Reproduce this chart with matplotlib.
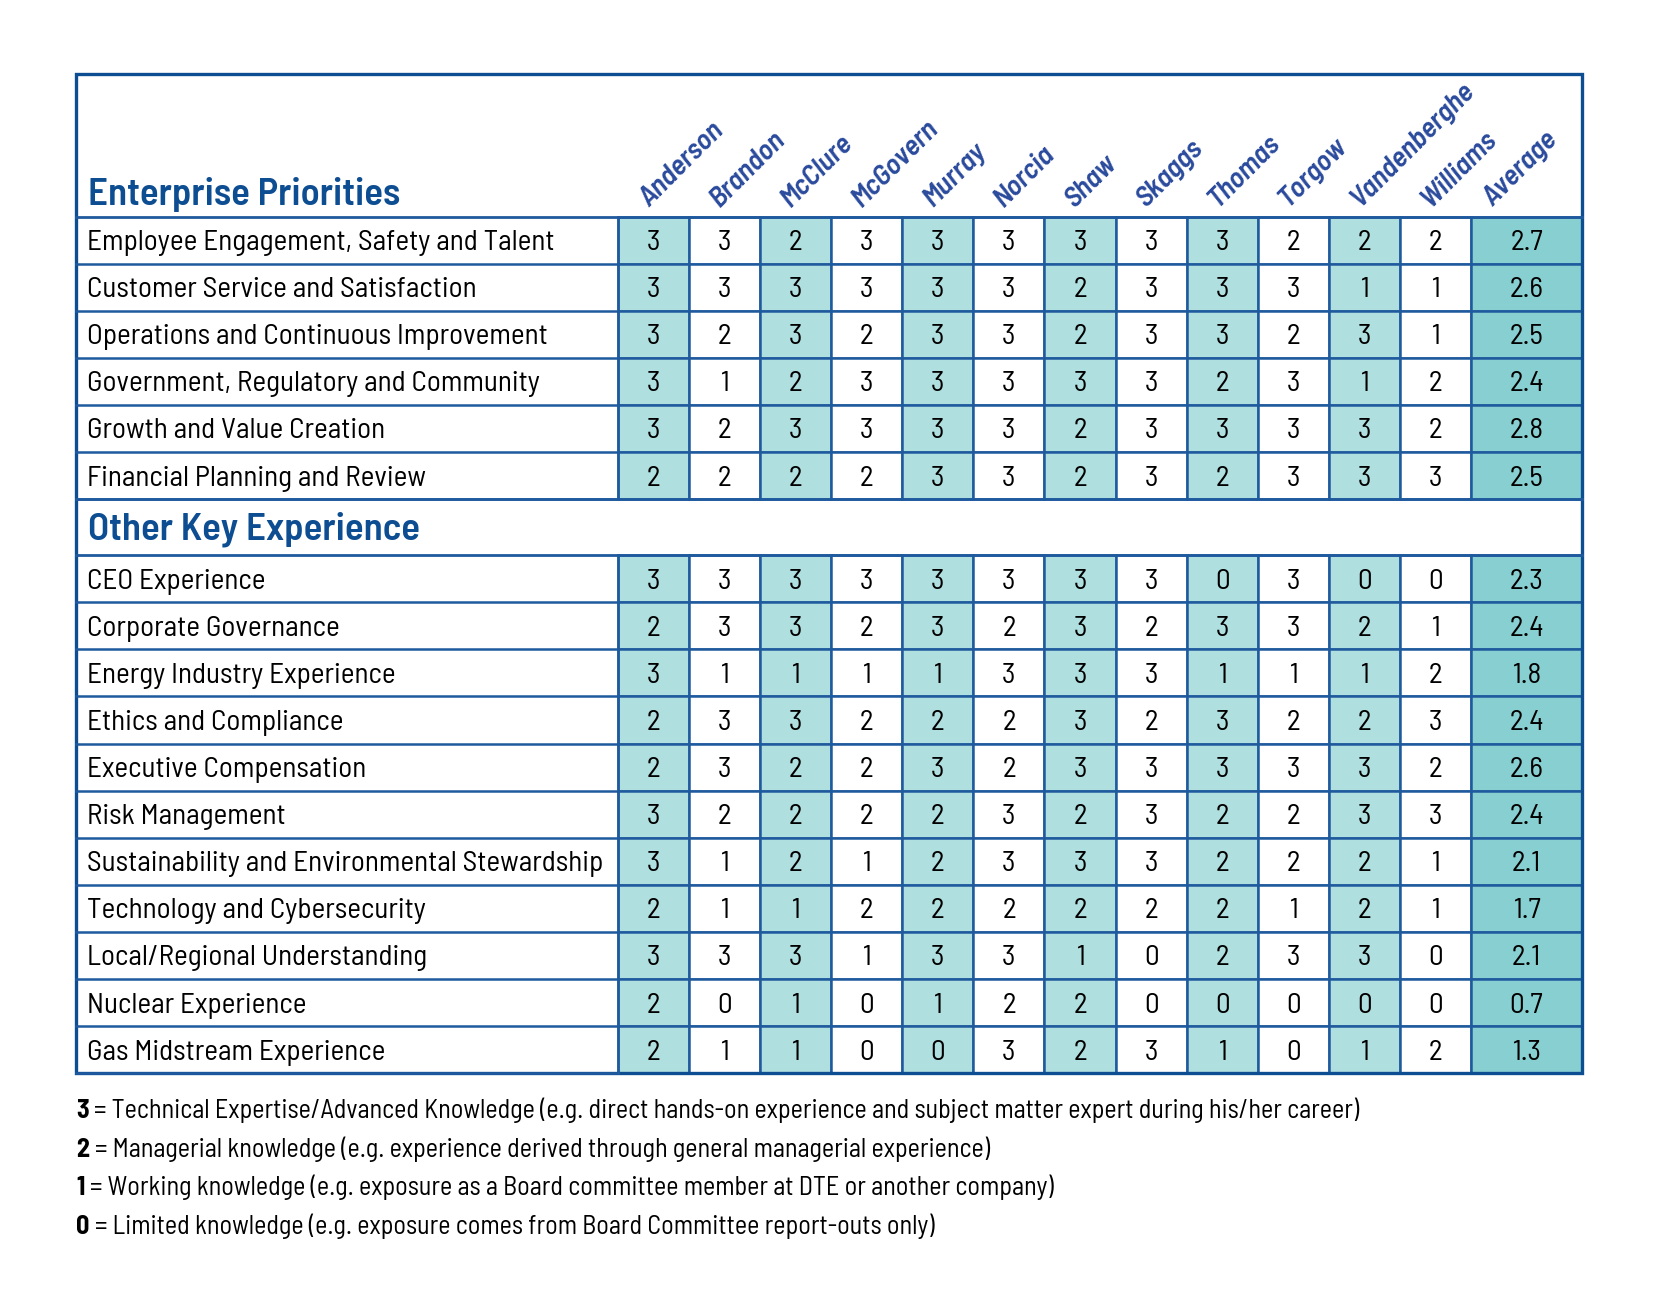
import matplotlib
matplotlib.use("Agg")
import matplotlib.pyplot as plt
from matplotlib.patches import Rectangle

# directors and skill scores
names = ["Anderson", "Brandon", "McClure", "McGovern", "Murray", "Norcia", "Shaw",
         "Skaggs", "Thomas", "Torgow", "Vandenberghe", "Williams"]

enterprise_labels = [
    "Employee Engagement, Safety and Talent",
    "Customer Service and Satisfaction",
    "Operations and Continuous Improvement",
    "Government, Regulatory and Community",
    "Growth and Value Creation",
    "Financial Planning and Review",
]
enterprise_scores = [
    [3, 3, 2, 3, 3, 3, 3, 3, 3, 2, 2, 2],
    [3, 3, 3, 3, 3, 3, 2, 3, 3, 3, 1, 1],
    [3, 2, 3, 2, 3, 3, 2, 3, 3, 2, 3, 1],
    [3, 1, 2, 3, 3, 3, 3, 3, 2, 3, 1, 2],
    [3, 2, 3, 3, 3, 3, 2, 3, 3, 3, 3, 2],
    [2, 2, 2, 2, 3, 3, 2, 3, 2, 3, 3, 3],
]
enterprise_avg = ["2.7", "2.6", "2.5", "2.4", "2.8", "2.5"]

other_labels = [
    "CEO Experience",
    "Corporate Governance",
    "Energy Industry Experience",
    "Ethics and Compliance",
    "Executive Compensation",
    "Risk Management",
    "Sustainability and Environmental Stewardship",
    "Technology and Cybersecurity",
    "Local/Regional Understanding",
    "Nuclear Experience",
    "Gas Midstream Experience",
]
other_scores = [
    [3, 3, 3, 3, 3, 3, 3, 3, 0, 3, 0, 0],
    [2, 3, 3, 2, 3, 2, 3, 2, 3, 3, 2, 1],
    [3, 1, 1, 1, 1, 3, 3, 3, 1, 1, 1, 2],
    [2, 3, 3, 2, 2, 2, 3, 2, 3, 2, 2, 3],
    [2, 3, 2, 2, 3, 2, 3, 3, 3, 3, 3, 2],
    [3, 2, 2, 2, 2, 3, 2, 3, 2, 2, 3, 3],
    [3, 1, 2, 1, 2, 3, 3, 3, 2, 2, 2, 1],
    [2, 1, 1, 2, 2, 2, 2, 2, 2, 1, 2, 1],
    [3, 3, 3, 1, 3, 3, 1, 0, 2, 3, 3, 0],
    [2, 0, 1, 0, 1, 2, 2, 0, 0, 0, 0, 0],
    [2, 1, 1, 0, 0, 3, 2, 3, 1, 0, 1, 2],
]
other_avg = ["2.3", "2.4", "1.8", "2.4", "2.6", "2.4", "2.1", "1.7", "2.1", "0.7", "1.3"]

legend_keys = ["3", "2", "1", "0"]
legend_texts = [
    "= Technical Expertise/Advanced Knowledge (e.g. direct hands-on experience and subject matter expert during his/her career)",
    "= Managerial knowledge (e.g. experience derived through general managerial experience)",
    "= Working knowledge (e.g. exposure as a Board committee member at DTE or another company)",
    "= Limited knowledge (e.g. exposure comes from Board Committee report-outs only)",
]

# colours
BLUE = "#0d4d92"
LINE = "#1f5a9e"
TEAL = "#b0dfe0"
TEAL_AVG = "#88cfd1"
NAME_BLUE = "#2a4a9c"

plt.rcParams['font.family'] = ['Barlow Semi Condensed', 'Liberation Sans', 'DejaVu Sans']

W, H = 1665, 1303
fig = plt.figure(figsize=(W / 100, H / 100), dpi=100)
ax = fig.add_axes([0, 0, 1, 1])
ax.set_xlim(0, W)
ax.set_ylim(H, 0)
ax.axis('off')

# layout in pixels
x0, xl, xr = 76, 618, 1582
y0, yh = 74, 216.5
rh = 47.1
sec_h = 56
ncol = len(names)
cw = (1471 - xl) / ncol
avg_w = xr - (xl + ncol * cw)
fs = 21


def draw_rows(labels, scores, avgs, ytop):
    y = ytop
    for lab, row, av in zip(labels, scores, avgs):
        ty = y + rh / 2 + 3
        ax.text(x0 + 11, ty, lab, fontsize=fs, va='center', ha='left')
        for j, v in enumerate(row):
            cx = xl + j * cw
            fc = TEAL if j % 2 == 0 else 'white'
            ax.add_patch(Rectangle((cx, y), cw, rh, facecolor=fc, edgecolor=LINE, lw=1.8))
            ax.text(cx + cw / 2, ty, str(v), fontsize=fs, ha='center', va='center')
        ax_x = xl + ncol * cw
        ax.add_patch(Rectangle((ax_x, y), avg_w, rh, facecolor=TEAL_AVG, edgecolor=LINE, lw=1.8))
        ax.text(ax_x + avg_w / 2, ty, av, fontsize=fs, ha='center', va='center')
        ax.plot([x0, xl], [y + rh, y + rh], color=LINE, lw=1.8)
        y += rh
    ax.plot([xl, xl], [ytop, y], color=LINE, lw=1.8)
    return y


# header
ax.text(x0 + 12, yh - 12, "Enterprise Priorities", fontsize=28, fontweight='semibold',
        color=BLUE, ha='left', va='baseline')
for j, nm in enumerate(names + ["Average"]):
    cx = xl + j * cw + cw / 2 - 5
    if j == ncol:
        cx = xl + ncol * cw + avg_w / 2 - 34
    ax.text(cx, yh - 9, nm, fontsize=21, fontstyle='italic', fontweight='semibold',
            color=NAME_BLUE, rotation=45, rotation_mode='anchor', ha='left', va='baseline')
ax.plot([x0, xr], [yh, yh], color=LINE, lw=2)

y = draw_rows(enterprise_labels, enterprise_scores, enterprise_avg, yh)

# section heading row
ax.text(x0 + 12, y + sec_h / 2 + 2, "Other Key Experience", fontsize=28, fontweight='semibold',
        color=BLUE, ha='left', va='center')
ax.plot([x0, xr], [y, y], color=LINE, lw=2)
y += sec_h
ax.plot([x0, xr], [y, y], color=LINE, lw=2)

y = draw_rows(other_labels, other_scores, other_avg, y)

# outer border
ax.add_patch(Rectangle((x0, y0), xr - x0, y - y0, facecolor='none', edgecolor=BLUE, lw=2.4))

# legend
ly = y + 45
for k, t in zip(legend_keys, legend_texts):
    tk = ax.text(x0, ly, k, fontsize=18.8, fontweight='bold', ha='left', va='baseline')
    ax.annotate(t, xycoords=tk, xy=(1, 0), xytext=(4, 0), textcoords='offset points',
                va='bottom', ha='left', fontsize=18.8)
    ly += 38.6

fig.savefig("out.png", dpi=100)
